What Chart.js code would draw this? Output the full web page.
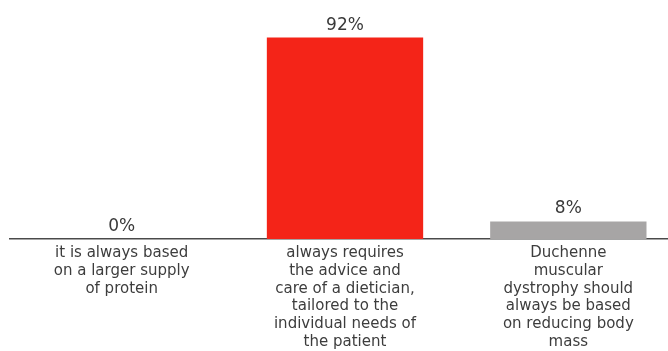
<!DOCTYPE html>
<html>
<head>
<meta charset="utf-8">
<script src="https://cdn.jsdelivr.net/npm/chart.js@4.4.0/dist/chart.umd.min.js"></script>
<style>
  html, body { margin: 0; padding: 0; background: #fff; overflow: hidden; }
  #wrap { width: 680px; height: 351px; }
</style>
</head>
<body>
<div id="wrap"><canvas id="chart" width="680" height="351"></canvas></div>
<script>
const categories = [
    ["it is always based", "on a larger supply", "of protein"],
    ["always requires", "the advice and", "care of a dietician,", "tailored to the", "individual needs of", "the patient"],
    ["Duchenne", "muscular", "dystrophy should", "always be based", "on reducing body", "mass"]
];
const answerShares = [0, 92, 8];
const barColors = ["#f42418", "#f42418", "#a7a5a5"];

const FONT = "'DejaVu Sans', sans-serif";

// percentage above each bar
const valueLabels = {
    id: "valueLabels",
    afterDatasetsDraw(chart) {
        const ctx = chart.ctx;
        const meta = chart.getDatasetMeta(0);
        ctx.save();
        ctx.font = "17px " + FONT;
        ctx.fillStyle = "#3a3a3a";
        ctx.textAlign = "center";
        ctx.textBaseline = "alphabetic";
        meta.data.forEach((bar, i) => {
            ctx.fillText(answerShares[i] + "%", bar.x, bar.y - 8);
        });
        ctx.restore();
    }
};

new Chart(document.getElementById("chart"), {
    type: "bar",
    data: {
        labels: categories,
        datasets: [{
            data: answerShares,
            backgroundColor: barColors,
            barPercentage: 0.7,
            categoryPercentage: 1.0
        }]
    },
    options: {
        responsive: false,
        animation: false,
        layout: { padding: { left: 10, right: 0, top: 20, bottom: 0 } },
        plugins: { legend: { display: false }, tooltip: { enabled: false } },
        scales: {
            x: {
                grid: { display: false, drawTicks: false },
                border: { display: true, color: "#4a4a4a", width: 1.5 },
                ticks: {
                    color: "#3d3d3d",
                    padding: 5,
                    autoSkip: false,
                    maxRotation: 0,
                    font: { family: FONT, size: 15, lineHeight: 1.19 }
                },
                afterFit(scale) { scale.height = 112; }
            },
            y: {
                display: false,
                min: 0,
                max: 100
            }
        }
    },
    plugins: [valueLabels]
});
</script>
</body>
</html>
